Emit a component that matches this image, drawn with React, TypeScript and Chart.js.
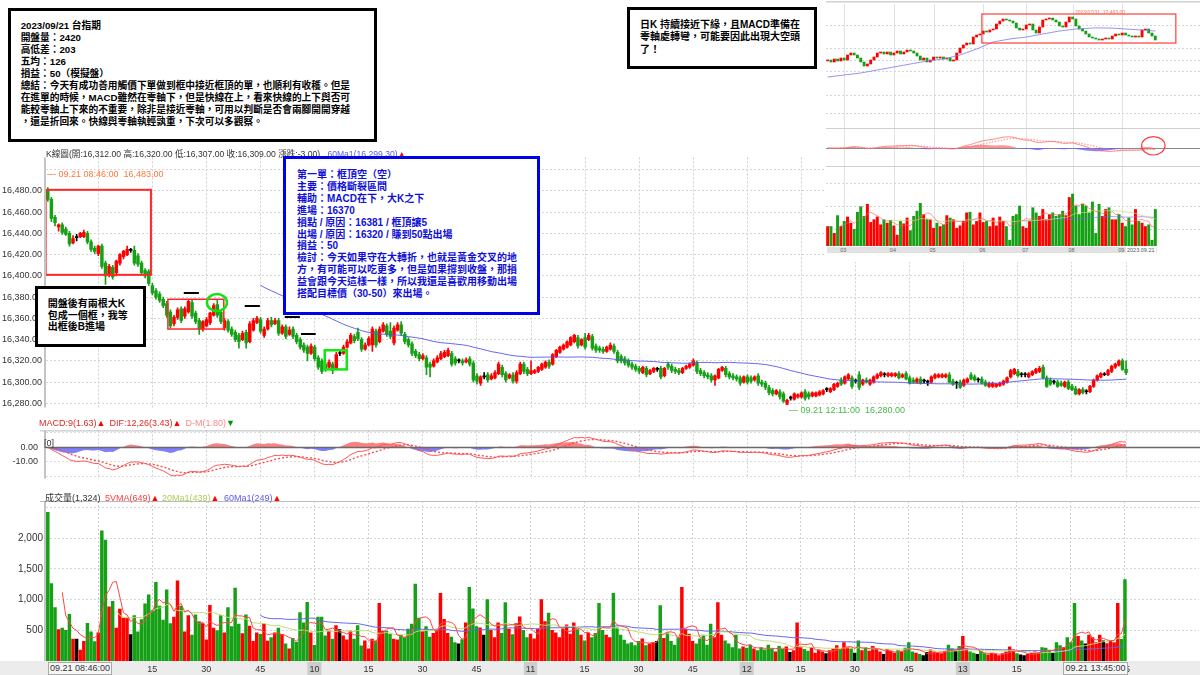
import React, { useEffect, useRef } from 'react';
import { Chart, registerables } from 'chart.js';

Chart.register(...registerables);

const FONT = "'Liberation Sans', 'Noto Sans CJK TC', sans-serif";
Chart.defaults.font.family = FONT;

// ===== 台指期 1-minute bars, 2023/09/21 08:46 - 13:45 (300 bars) =====
const opens = [
  16481,16472,16455,16446,16448,16444,16440,16431,16436,16437,
  16437,16440,16432,16426,16421,16428,16412,16401,16408,16403,
  16412,16418,16420,16424,16424,16419,16412,16405,16404,16391,
  16386,16383,16378,16374,16366,16355,16361,16369,16362,16366,
  16375,16365,16358,16350,16353,16356,16363,16373,16366,16351,
  16357,16350,16347,16344,16340,16347,16338,16349,16356,16359,
  16344,16350,16358,16355,16358,16346,16352,16345,16350,16344,
  16340,16335,16333,16327,16333,16323,16320,16317,16314,16317,
  16313,16327,16327,16333,16337,16343,16347,16340,16331,16335,
  16335,16348,16338,16348,16353,16348,16337,16349,16354,16345,
  16340,16336,16329,16326,16322,16323,16317,16315,16319,16322,
  16324,16325,16327,16322,16320,16320,16319,16322,16318,16306,
  16299,16305,16307,16303,16304,16308,16314,16308,16304,16307,
  16301,16308,16317,16312,16308,16309,16310,16312,16314,16319,
  16317,16324,16328,16331,16333,16335,16338,16342,16335,16342,
  16340,16343,16334,16332,16331,16329,16331,16334,16328,16324,
  16322,16320,16317,16315,16313,16309,16313,16308,16310,16312,
  16313,16306,16317,16315,16312,16311,16309,16313,16314,16316,
  16318,16311,16309,16307,16306,16302,16304,16311,16313,16308,
  16306,16305,16304,16300,16305,16304,16302,16306,16300,16299,
  16295,16292,16289,16291,16289,16281,16285,16284,16286,16286,
  16291,16289,16287,16287,16288,16289,16293,16291,16293,16296,
  16302,16299,16303,16304,16301,16307,16298,16302,16298,16300,
  16304,16306,16307,16306,16306,16306,16308,16305,16308,16304,
  16302,16300,16303,16301,16300,16300,16304,16305,16305,16305,
  16307,16301,16299,16300,16297,16300,16307,16305,16302,16303,
  16300,16296,16296,16296,16297,16298,16300,16305,16308,16310,
  16307,16307,16305,16307,16309,16310,16314,16304,16302,16300,
  16300,16299,16296,16300,16296,16294,16289,16293,16291,16291,
  16296,16302,16305,16307,16307,16310,16314,16316,16320,16312,
];
const highs = [
  16483,16474,16457,16449,16450,16446,16442,16438,16439,16441,
  16443,16442,16434,16428,16429,16430,16414,16411,16410,16415,
  16421,16424,16428,16426,16428,16421,16414,16407,16406,16393,
  16388,16385,16380,16376,16368,16363,16370,16371,16371,16378,
  16377,16367,16360,16358,16361,16366,16374,16377,16368,16360,
  16359,16352,16349,16346,16348,16349,16357,16360,16362,16361,
  16352,16360,16361,16360,16360,16354,16354,16352,16352,16346,
  16342,16337,16335,16336,16335,16325,16322,16319,16321,16319,
  16328,16329,16335,16340,16346,16345,16351,16342,16337,16343,
  16352,16350,16352,16356,16355,16356,16353,16356,16357,16347,
  16342,16338,16331,16328,16327,16325,16319,16322,16325,16329,
  16330,16332,16329,16324,16322,16322,16323,16324,16320,16308,
  16306,16309,16309,16308,16311,16319,16316,16310,16308,16309,
  16311,16319,16319,16314,16320,16312,16315,16318,16320,16321,
  16327,16331,16334,16336,16339,16343,16345,16344,16341,16346,
  16346,16345,16336,16334,16333,16334,16337,16336,16330,16326,
  16324,16322,16319,16317,16315,16315,16315,16312,16314,16314,
  16315,16314,16319,16317,16314,16313,16314,16316,16318,16322,
  16320,16313,16311,16309,16308,16307,16313,16315,16315,16310,
  16308,16307,16306,16306,16307,16306,16306,16308,16302,16301,
  16297,16294,16293,16293,16291,16284,16287,16290,16289,16291,
  16293,16291,16291,16291,16292,16293,16295,16295,16299,16300,
  16304,16306,16308,16306,16303,16310,16303,16304,16303,16306,
  16308,16310,16309,16309,16309,16309,16310,16308,16310,16306,
  16304,16304,16305,16303,16302,16306,16308,16308,16308,16308,
  16309,16303,16301,16302,16303,16304,16309,16307,16304,16305,
  16302,16300,16300,16299,16300,16302,16305,16312,16313,16312,
  16309,16309,16309,16311,16313,16315,16316,16306,16304,16302,
  16302,16301,16301,16302,16298,16296,16294,16295,16293,16297,
  16303,16307,16309,16309,16312,16316,16318,16321,16322,16320,
];
const lows = [
  16470,16451,16447,16442,16439,16438,16428,16430,16433,16436,
  16436,16430,16423,16421,16419,16407,16392,16399,16397,16400,
  16410,16416,16419,16422,16410,16409,16401,16398,16391,16382,
  16378,16375,16370,16361,16351,16353,16359,16356,16360,16365,
  16360,16355,16345,16348,16352,16354,16362,16361,16355,16349,
  16347,16343,16338,16332,16339,16332,16337,16348,16355,16346,
  16342,16349,16352,16354,16344,16345,16341,16344,16341,16336,
  16331,16328,16320,16326,16320,16312,16308,16310,16313,16308,
  16312,16325,16326,16332,16336,16337,16339,16329,16330,16334,
  16329,16333,16337,16347,16343,16341,16335,16348,16344,16336,
  16333,16325,16323,16320,16321,16307,16305,16314,16318,16321,
  16323,16324,16315,16316,16318,16316,16318,16315,16300,16298,
  16297,16303,16300,16302,16303,16307,16305,16300,16303,16299,
  16299,16307,16308,16306,16307,16308,16309,16311,16313,16313,
  16316,16323,16327,16330,16332,16334,16337,16332,16334,16331,
  16339,16330,16328,16328,16327,16328,16330,16327,16318,16318,
  16316,16314,16312,16310,16308,16308,16305,16307,16309,16310,
  16303,16305,16312,16309,16308,16307,16308,16312,16313,16315,
  16308,16306,16304,16303,16300,16297,16303,16310,16305,16303,
  16302,16301,16297,16299,16298,16299,16301,16297,16296,16293,
  16288,16287,16288,16284,16281,16280,16283,16283,16285,16285,
  16283,16284,16286,16286,16287,16288,16291,16290,16292,16295,
  16297,16298,16302,16294,16299,16293,16297,16299,16297,16299,
  16303,16305,16305,16305,16305,16305,16303,16304,16302,16298,
  16299,16299,16298,16299,16297,16299,16303,16304,16304,16304,
  16299,16297,16294,16294,16296,16299,16302,16301,16300,16298,
  16296,16295,16295,16295,16296,16297,16299,16304,16307,16305,
  16305,16305,16304,16306,16308,16309,16303,16295,16297,16298,
  16295,16296,16295,16293,16292,16288,16288,16289,16289,16290,
  16295,16301,16304,16306,16306,16309,16313,16315,16311,16307,
];
const closes = [
  16472,16454,16450,16448,16441,16439,16430,16435,16436,16440,
  16441,16432,16425,16423,16428,16409,16400,16409,16399,16414,
  16420,16423,16425,16424,16412,16411,16403,16400,16393,16384,
  16380,16377,16372,16363,16353,16361,16368,16358,16369,16376,
  16362,16357,16350,16357,16359,16365,16372,16363,16357,16358,
  16349,16345,16340,16338,16346,16337,16355,16358,16360,16348,
  16350,16358,16354,16358,16346,16352,16343,16349,16343,16338,
  16333,16330,16327,16334,16322,16314,16310,16312,16319,16311,
  16326,16327,16333,16338,16344,16339,16341,16331,16335,16341,
  16350,16335,16350,16354,16345,16343,16351,16354,16346,16338,
  16335,16327,16325,16322,16325,16314,16314,16320,16323,16327,
  16328,16330,16317,16318,16320,16318,16321,16317,16302,16301,
  16305,16305,16302,16306,16309,16317,16307,16302,16307,16301,
  16309,16317,16310,16308,16311,16311,16314,16317,16319,16315,
  16326,16330,16333,16335,16338,16342,16344,16334,16340,16333,
  16344,16332,16330,16330,16329,16333,16335,16329,16320,16320,
  16318,16316,16314,16312,16310,16314,16307,16311,16313,16312,
  16305,16313,16314,16311,16310,16309,16313,16315,16317,16320,
  16310,16308,16306,16305,16302,16306,16312,16314,16307,16305,
  16304,16303,16299,16305,16300,16301,16305,16299,16298,16295,
  16290,16289,16292,16286,16282,16283,16285,16289,16288,16290,
  16285,16286,16290,16290,16291,16292,16293,16294,16298,16299,
  16298,16305,16307,16296,16301,16295,16302,16300,16302,16305,
  16307,16309,16307,16308,16308,16308,16304,16307,16303,16299,
  16300,16303,16299,16301,16300,16305,16307,16307,16307,16307,
  16300,16298,16299,16295,16302,16303,16303,16302,16302,16299,
  16297,16299,16299,16298,16299,16301,16304,16311,16312,16306,
  16307,16307,16308,16310,16312,16313,16304,16296,16298,16300,
  16296,16297,16300,16294,16293,16289,16293,16290,16291,16296,
  16302,16306,16308,16307,16311,16315,16317,16320,16312,16309,
];
const volumes = [
  2420,1260,870,510,535,500,760,355,355,177,
  320,612,475,315,460,2120,1970,880,970,535,
  845,700,700,430,740,475,675,930,1075,820,
  1280,895,665,1160,610,715,1305,895,475,740,
  420,750,640,610,345,905,535,495,740,460,
  870,560,1185,600,445,750,570,320,460,435,
  600,325,380,460,535,435,280,200,370,305,
  790,620,955,460,255,715,715,410,485,355,
  575,510,410,345,485,355,575,245,330,200,
  355,330,940,485,485,435,355,345,420,380,
  520,600,1250,700,480,560,390,450,520,1100,
  680,450,390,300,280,350,620,1200,850,560,
  540,420,1000,500,380,620,450,950,520,430,
  610,720,500,380,440,360,520,1000,640,780,
  500,460,380,520,590,440,620,510,420,330,
  460,380,450,940,500,420,380,1100,540,420,
  340,280,300,250,320,360,250,280,300,320,
  900,370,460,320,260,380,1200,520,440,320,
  280,360,420,260,600,380,950,420,330,280,
  220,420,200,230,210,260,200,170,220,180,
  260,200,150,240,190,230,140,170,620,220,
  190,160,220,130,180,150,120,170,200,250,
  190,300,220,200,130,330,170,220,160,240,
  200,150,110,190,160,130,170,150,210,300,
  150,130,110,90,140,180,150,130,120,160,
  260,200,160,240,400,200,150,130,110,160,
  120,100,130,110,90,120,150,230,180,120,
  100,90,110,130,150,140,220,210,160,130,
  300,250,220,380,300,940,400,330,280,420,
  380,300,420,330,285,330,300,940,351,1324,
];

// time axis (slot index -> label)
const SLOTS = 320;
const timeTickIndex = [14, 29, 44, 59, 74, 89, 104, 119, 134, 149, 164, 179, 194, 209, 224, 239, 254, 269, 284, 299];
const timeTickText = ['09', '15', '30', '45', '10', '15', '30', '45', '11', '15', '30', '45', '12', '15', '30', '45', '13', '15', '30', '45'];
const hourTickIndex = [74, 134, 194, 254];

// value-axis ticks
const priceTickValues = [16280, 16300, 16320, 16340, 16360, 16380, 16400, 16420, 16440, 16460, 16480, 16500];
const macdTickValues = [-20, -10, 0, 10];
const macdTickLabels: Record<string, string> = { '0': '0.00', '-10': '-10.00' };
const volumeTickValues = [500, 1000, 1500, 2000, 2500];

// price-panel annotations (bar index / price coordinates)
const boxAnnotations = [
  { x0: -0.6, x1: 28.6, y0: 16401, y1: 16481, color: 'rgb(255,40,40)', width: 2 },
  { x0: 33.3, x1: 48.8, y0: 16350, y1: 16378, color: 'rgb(255,40,40)', width: 1.5 },
  { x0: 76.8, x1: 82.9, y0: 16312, y1: 16330, color: 'rgb(20,230,20)', width: 2.5 },
];
const dashAnnotations = [
  { x0: 37.7, x1: 41.9, y: 16384 },
  { x0: 54.6, x1: 58.8, y: 16372 },
  { x0: 65.7, x1: 69.9, y: 16361 },
  { x0: 70.2, x1: 74.3, y: 16345 },
];
const circleAnnotation = { x: 46.9, y: 16375, rx: 10, ry: 8.5 };
const lowMarkIndex = 205;

// ===== inset: daily K (日K) =====
const dailyOpens = [
  15380,15421,15332,15465,15376,15509,15421,15643,15731,15643,
  15509,15332,15154,15243,15421,15554,15731,15776,15687,15776,
  15643,15731,15820,15687,15776,15865,15820,15731,15598,15421,
  15509,15332,15421,15554,15509,15554,15465,15509,15376,15421,
  15731,15953,16087,16175,16131,16442,16531,16575,16708,16664,
  16753,16797,17019,17152,17241,17197,17152,17063,16841,16753,
  16797,16975,17019,16753,16619,16886,17197,17241,17285,17197,
  17108,16930,16886,17108,17330,17241,16930,16797,16708,16575,
  16442,16397,16353,16309,16353,16397,16353,16486,16575,16531,
  16619,16531,16486,16442,16486,16442,16753,16797,16619,16486,
];
const dailyCloses = [
  15421,15332,15465,15376,15509,15421,15643,15731,15643,15509,
  15332,15154,15243,15421,15554,15731,15776,15687,15776,15643,
  15731,15820,15687,15776,15865,15820,15731,15598,15421,15509,
  15332,15421,15554,15509,15554,15465,15509,15376,15421,15731,
  15953,16087,16175,16131,16442,16531,16575,16708,16664,16753,
  16797,17019,17152,17241,17197,17152,17063,16841,16753,16797,
  16975,17019,16753,16619,16886,17197,17241,17285,17197,17108,
  16930,16886,17108,17330,17241,16930,16797,16708,16575,16442,
  16397,16353,16309,16353,16397,16353,16486,16575,16531,16619,
  16531,16486,16442,16486,16442,16753,16797,16619,16486,16309,
];
const dailyMA = [
  14666,14684,14702,14720,14738,14755,14773,14790,14808,14826,
  14843,14870,14897,14923,14950,14977,15004,15030,15057,15084,
  15110,15137,15163,15190,15216,15243,15270,15296,15323,15349,
  15376,15394,15412,15429,15447,15465,15501,15536,15572,15607,
  15643,15696,15749,15803,15856,15909,15971,16033,16096,16158,
  16220,16247,16274,16300,16327,16353,16371,16389,16406,16424,
  16442,16469,16495,16522,16548,16575,16602,16628,16655,16681,
  16708,16726,16744,16761,16779,16797,16806,16815,16823,16832,
  16841,16843,16845,16845,16843,16841,16834,16826,16818,16808,
  16797,16788,16779,16771,16762,16753,16742,16731,16719,16708,
];
const dailyVolumes = [
  57,57,37,89,57,72,85,67,49,99,
  115,87,122,69,77,85,62,77,67,75,
  59,32,72,65,82,45,87,102,125,92,
  79,77,52,67,57,62,89,82,77,52,
  59,72,97,99,62,72,97,69,72,57,
  82,59,85,72,57,17,87,92,117,57,
  52,72,112,97,87,107,77,92,97,87,
  92,102,89,142,152,117,92,122,117,97,
  129,37,122,87,107,112,77,77,92,67,
  57,82,62,107,72,67,57,62,17,107,
];
const DAILY_SLOTS = 113;
const dailyMonthIndex = [5, 20, 32, 47, 60, 74, 89];
const dailyMonthText = ['03', '04', '05', '06', '07', '08', '09'];
const dailyBox = { x0: 46.6, x1: 105.2, y0: 16175, y1: 17463 };
const dailyCircle = { x: 98.4, y: 80, rx: 11.7, ry: 9.2 };

// ===== helpers =====
const RED = '#ff0000';
const GREEN = '#15a015';
const BLACK = '#000000';
const dirColor = (o: number, c: number) => (c > o ? RED : c < o ? GREEN : BLACK);
function ema(src: number[], n: number) {
  const k = 2 / (n + 1);
  const out: number[] = [];
  src.forEach((v, i) => out.push(i === 0 ? v : v * k + out[i - 1] * (1 - k)));
  return out;
}
function sma(src: number[], n: number) {
  return src.map((_, i) => {
    if (i < n - 1) return null;
    let s = 0;
    for (let j = i - n + 1; j <= i; j++) s += src[j];
    return s / n;
  });
}
const fmt2 = (v: number) => v.toLocaleString('en-US', { minimumFractionDigits: 2, maximumFractionDigits: 2 });
const fixedTicks = (values: number[]) => (s: any) => { s.ticks = values.map((v) => ({ value: v })); };

const slotLabels = Array.from({ length: SLOTS }, (_, i) => String(i));
const tickSet = new Set(timeTickIndex);
const hourSet = new Set(hourTickIndex);
const tickLabelMap: Record<number, string> = {};
timeTickIndex.forEach((idx, k) => { tickLabelMap[idx] = timeTickText[k]; });

const gridXColor = (ctx: any) => (tickSet.has(ctx.index) ? '#cfcfcf' : 'rgba(0,0,0,0)');

function hiddenX() {
  return {
    type: 'category', offset: true,
    afterFit: (s: any) => { s.height = 0; },
    ticks: { display: false, autoSkip: false },
    grid: { offset: false, drawTicks: false, color: gridXColor, lineWidth: 1 },
    border: { display: false, dash: [2, 2] },
  };
}

const axisLinePlugin = {
  id: 'axisLine',
  afterDraw(chart: any) {
    const { ctx, chartArea: a } = chart;
    ctx.save();
    ctx.fillStyle = '#c4c4c4';
    ctx.fillRect(a.left - 2, a.top, 2, a.bottom - a.top);
    ctx.restore();
  },
};
const topRulePlugin = {
  id: 'topRule',
  afterDraw(chart: any) {
    const { ctx, chartArea: a } = chart;
    ctx.save();
    ctx.fillStyle = '#bcbcbc';
    ctx.fillRect(40, a.top, chart.width - 40, 1);
    ctx.restore();
  },
};

const priceAnnoPlugin = {
  id: 'priceAnno',
  afterDatasetsDraw(chart: any) {
    const { ctx } = chart;
    const x = chart.scales.x;
    const y = chart.scales.y;
    ctx.save();
    boxAnnotations.forEach((b) => {
      const px0 = x.getPixelForValue(b.x0);
      const px1 = x.getPixelForValue(b.x1);
      const py0 = y.getPixelForValue(b.y1);
      const py1 = y.getPixelForValue(b.y0);
      ctx.strokeStyle = b.color;
      ctx.lineWidth = b.width;
      ctx.strokeRect(px0, py0, px1 - px0, py1 - py0);
    });
    ctx.strokeStyle = '#000';
    ctx.lineWidth = 2;
    dashAnnotations.forEach((d) => {
      const py = Math.round(y.getPixelForValue(d.y));
      ctx.beginPath();
      ctx.moveTo(x.getPixelForValue(d.x0), py);
      ctx.lineTo(x.getPixelForValue(d.x1), py);
      ctx.stroke();
    });
    ctx.strokeStyle = 'rgb(20,225,20)';
    ctx.lineWidth = 2.5;
    ctx.beginPath();
    ctx.ellipse(x.getPixelForValue(circleAnnotation.x), y.getPixelForValue(circleAnnotation.y), circleAnnotation.rx, circleAnnotation.ry, 0, 0, Math.PI * 2);
    ctx.stroke();
    ctx.fillStyle = RED;
    ctx.fillRect(x.getPixelForValue(lowMarkIndex) - 1.5, y.getPixelForValue(lows[lowMarkIndex]) - 1.5, 3, 3);
    ctx.restore();
  },
};

const zeroLinePlugin = {
  id: 'zeroLine',
  afterDatasetsDraw(chart: any) {
    const { ctx } = chart;
    const py = Math.round(chart.scales.y.getPixelForValue(0)) + 0.5;
    ctx.save();
    ctx.strokeStyle = '#6a6a6a';
    ctx.lineWidth = 1.5;
    ctx.beginPath();
    ctx.moveTo(chart.chartArea.left, py);
    ctx.lineTo(chart.chartArea.right, py);
    ctx.stroke();
    ctx.restore();
  },
};

const stripPlugin = {
  id: 'strip',
  beforeDraw(chart: any) {
    const { ctx, chartArea: a } = chart;
    ctx.save();
    ctx.fillStyle = '#ececec';
    ctx.fillRect(0, a.bottom, chart.width, chart.height - a.bottom);
    ctx.restore();
  },
};

const insetPlugin = {
  id: 'insetDeco',
  beforeDatasetsDraw(chart: any) {
    const { ctx } = chart;
    const x = chart.scales.x;
    const W = chart.width;
    ctx.save();
    ctx.fillStyle = '#d2d2d2';
    ctx.fillRect(0, 1, W, 1.5);
    ctx.strokeStyle = '#e2e2e2';
    ctx.lineWidth = 1;
    dailyMonthIndex.forEach((j) => {
      const px = Math.round(x.getPixelForValue(j)) + 0.5;
      ctx.beginPath(); ctx.moveTo(px, 4); ctx.lineTo(px, chart.height); ctx.stroke();
    });
    ctx.setLineDash([2, 2]);
    ctx.strokeStyle = '#d6d6d6';
    [25, 48, 60, 71, 95, 113, 183, 206, 229].forEach((py) => {
      ctx.beginPath(); ctx.moveTo(0, py + 0.5); ctx.lineTo(W, py + 0.5); ctx.stroke();
    });
    ctx.setLineDash([]);
    ctx.strokeStyle = '#cfcfcf';
    [128, 166].forEach((py) => {
      ctx.beginPath(); ctx.moveTo(0, py + 0.5); ctx.lineTo(W, py + 0.5); ctx.stroke();
    });
    const zy = Math.round(chart.scales.ym.getPixelForValue(0)) + 0.5;
    ctx.strokeStyle = '#8a8a8a';
    ctx.beginPath(); ctx.moveTo(0, zy); ctx.lineTo(W, zy); ctx.stroke();
    ctx.restore();
  },
  afterDatasetsDraw(chart: any) {
    const { ctx } = chart;
    const x = chart.scales.x;
    const yp = chart.scales.yp;
    const ym = chart.scales.ym;
    ctx.save();
    ctx.strokeStyle = 'rgb(255,60,60)';
    ctx.lineWidth = 1.2;
    const bx0 = x.getPixelForValue(dailyBox.x0);
    const bx1 = x.getPixelForValue(dailyBox.x1);
    const by0 = yp.getPixelForValue(dailyBox.y1);
    const by1 = yp.getPixelForValue(dailyBox.y0);
    ctx.strokeRect(bx0, by0, bx1 - bx0, by1 - by0);
    ctx.beginPath();
    ctx.ellipse(x.getPixelForValue(dailyCircle.x), ym.getPixelForValue(dailyCircle.y), dailyCircle.rx, dailyCircle.ry, 0, 0, Math.PI * 2);
    ctx.stroke();
    ctx.restore();
  },
};

const baseOptions = {
  animation: false,
  responsive: false,
  events: [],
  layout: { padding: 0 },
  plugins: { legend: { display: false }, tooltip: { enabled: false } },
};

function priceConfig() {
  const colors = opens.map((o, i) => dirColor(o, closes[i]));
  return {
    type: 'bar',
    data: {
      labels: slotLabels,
      datasets: [
        { type: 'line', data: sma(closes, 60), borderColor: 'rgba(85,85,235,0.9)', borderWidth: 1, pointRadius: 0, order: 0 },
        { type: 'bar', data: opens.map((o, i) => [o, closes[i]]), backgroundColor: colors, barThickness: 2.8, minBarLength: 1, grouped: false, order: 1 },
        { type: 'bar', data: lows.map((l, i) => [l, highs[i]]), backgroundColor: colors, barThickness: 1, grouped: false, order: 2 },
      ],
    },
    options: {
      ...baseOptions,
      scales: {
        x: hiddenX(),
        y: {
          min: 16276.06, max: 16511.51,
          afterFit: (s: any) => { s.width = 46; },
          afterBuildTicks: fixedTicks(priceTickValues),
          ticks: {
            padding: 4, color: '#333', font: { size: 9 },
            callback: (v: number) => (v <= 16480 ? fmt2(v) : ''),
          },
          grid: { color: '#d6d6d6', drawTicks: false },
          border: { display: false, dash: [2, 2] },
        },
      },
    },
    plugins: [axisLinePlugin, priceAnnoPlugin],
  };
}

function macdConfig() {
  const e12 = ema(closes, 12);
  const e26 = ema(closes, 26);
  const dif = e12.map((v, i) => v - e26[i]);
  const sig = ema(dif, 9);
  const hist = dif.map((d, i) => d - sig[i]);
  return {
    type: 'line',
    data: {
      labels: slotLabels,
      datasets: [
        { data: hist, borderColor: 'rgba(0,0,0,0)', borderWidth: 0, pointRadius: 0, fill: { target: 'origin', above: 'rgba(255,105,105,0.85)', below: 'rgba(105,105,250,0.85)' }, order: 3 },
        { data: dif, borderColor: 'rgb(255,85,85)', borderWidth: 1, pointRadius: 0, order: 1 },
        { data: sig, borderColor: 'rgb(255,70,70)', borderWidth: 1.3, borderDash: [2, 2], pointRadius: 0, order: 2 },
      ],
    },
    options: {
      ...baseOptions,
      scales: {
        x: hiddenX(),
        y: {
          min: -21.45, max: 11.59,
          afterFit: (s: any) => { s.width = 46; },
          afterBuildTicks: fixedTicks(macdTickValues),
          ticks: {
            padding: 8, color: '#333', font: { size: 9 },
            callback: (v: number) => macdTickLabels[String(v)] || '',
          },
          grid: { color: (c: any) => (c.tick && c.tick.value === 0 ? 'rgba(0,0,0,0)' : '#dcdcdc'), drawTicks: false },
          border: { display: false, dash: [2, 2] },
        },
      },
    },
    plugins: [axisLinePlugin, topRulePlugin, zeroLinePlugin],
  };
}

function volumeConfig() {
  const colors = opens.map((o, i) => dirColor(o, closes[i]));
  return {
    type: 'bar',
    data: {
      labels: slotLabels,
      datasets: [
        { type: 'line', data: sma(volumes, 5), borderColor: 'rgb(255,70,70)', borderWidth: 1, pointRadius: 0, order: 0 },
        { type: 'line', data: sma(volumes, 20), borderColor: 'rgb(190,220,110)', borderWidth: 1, pointRadius: 0, order: 0 },
        { type: 'line', data: sma(volumes, 60), borderColor: 'rgb(100,100,240)', borderWidth: 1, pointRadius: 0, order: 0 },
        { type: 'bar', data: volumes, backgroundColor: colors, barThickness: 2.8, grouped: false, order: 1 },
      ],
    },
    options: {
      ...baseOptions,
      scales: {
        x: {
          type: 'category', offset: true,
          afterFit: (s: any) => { s.height = 14; },
          ticks: {
            autoSkip: false, maxRotation: 0, padding: 3, color: '#333', font: { size: 9 },
            callback: (_v: any, idx: number) => tickLabelMap[idx] || '',
            showLabelBackdrop: (c: any) => hourSet.has(c.index),
            backdropColor: '#cdcdcd',
            backdropPadding: { left: 2, right: 2, top: 2, bottom: 2 },
          },
          grid: { offset: false, drawTicks: false, color: gridXColor },
          border: { display: false, dash: [2, 2] },
        },
        y: {
          min: 0, max: 2604,
          afterFit: (s: any) => { s.width = 46; },
          afterBuildTicks: fixedTicks(volumeTickValues),
          ticks: {
            padding: 3, color: '#333', font: { size: 10 },
            callback: (v: number) => (v <= 2000 ? v.toLocaleString('en-US') : ''),
          },
          grid: { color: '#d6d6d6', drawTicks: false },
          border: { display: false, dash: [2, 2] },
        },
      },
    },
    plugins: [stripPlugin, axisLinePlugin, topRulePlugin],
  };
}

function insetConfig() {
  const colors = dailyOpens.map((o, i) => dirColor(o, dailyCloses[i]));
  const e12 = ema(dailyCloses, 12);
  const e26 = ema(dailyCloses, 26);
  const dif = e12.map((v, i) => v - e26[i]);
  const sig = ema(dif, 9);
  const hist = dif.map((d, i) => d - sig[i]);
  return {
    type: 'bar',
    data: {
      labels: Array.from({ length: DAILY_SLOTS }, (_, i) => String(i)),
      datasets: [
        { type: 'line', yAxisID: 'yp', data: dailyMA, borderColor: 'rgba(120,120,235,0.8)', borderWidth: 1, pointRadius: 0, order: 0 },
        { type: 'bar', yAxisID: 'yp', data: dailyOpens.map((o, i) => [o, dailyCloses[i]]), backgroundColor: colors, barThickness: 2.2, minBarLength: 1, grouped: false, order: 1 },
        { type: 'line', yAxisID: 'ym', data: hist, borderColor: 'rgba(0,0,0,0)', borderWidth: 0, pointRadius: 0, fill: { target: 'origin', above: 'rgba(255,100,100,0.7)', below: 'rgba(100,100,250,0.8)' }, order: 3 },
        { type: 'line', yAxisID: 'ym', data: dif, borderColor: 'rgba(255,110,110,0.9)', borderWidth: 0.9, pointRadius: 0, order: 1 },
        { type: 'line', yAxisID: 'ym', data: sig, borderColor: 'rgba(255,110,110,0.9)', borderWidth: 0.9, borderDash: [1.5, 1.5], pointRadius: 0, order: 1 },
        { type: 'bar', yAxisID: 'yv', data: dailyVolumes, backgroundColor: colors, barThickness: 2.3, grouped: false, order: 2 },
        { type: 'line', yAxisID: 'yv', data: sma(dailyVolumes, 5), borderColor: 'rgba(255,90,90,0.8)', borderWidth: 0.8, pointRadius: 0, order: 0 },
        { type: 'line', yAxisID: 'yv', data: sma(dailyVolumes, 20), borderColor: 'rgba(200,215,120,0.9)', borderWidth: 0.8, pointRadius: 0, order: 0 },
        { type: 'line', yAxisID: 'yv', data: sma(dailyVolumes, 60), borderColor: 'rgba(110,110,240,0.8)', borderWidth: 0.8, pointRadius: 0, order: 0 },
      ],
    },
    options: {
      ...baseOptions,
      scales: {
        x: { type: 'category', offset: true, display: false },
        yp: { display: false, min: 7162, max: 18085 },
        ym: { display: false, min: -3528, max: 5328 },
        yv: { display: false, min: 0, max: 720 },
      },
    },
    plugins: [insetPlugin],
  };
}

const abs = (left: number, top: number, extra: any = {}) => ({ position: 'absolute' as const, left, top, ...extra });
const small = { fontSize: 9, lineHeight: '11px', whiteSpace: 'nowrap' as const };

const leftNote = [
  '2023/09/21 台指期',
  '開盤量：2420',
  '高低差：203',
  '五均：126',
  '損益：50（模擬盤）',
  '總結：今天有成功善用觸價下單做到框中接近框頂的單，也順利有收穫。但是',
  '在進單的時候，MACD雖然在零軸下，但是快線在上，看來快線的上下與否可',
  '能較零軸上下來的不重要，除非是接近零軸，可用以判斷是否會兩腳開開穿越',
  '，還是折回來。快線與零軸執輕孰重，下次可以多觀察。',
];
const dailyNote = ['日K 持續接近下緣，且MACD準備在', '零軸處轉彎，可能要因此出現大空頭', '了！'];
const tradeNote = [
  '第一單：框頂空（空）',
  '主要：價格斷裂區間',
  '輔助：MACD在下，大K之下',
  '進場：16370',
  '損點 / 原因：16381 /  框頂讓5',
  '出場 / 原因：16320 / 賺到50點出場',
  '損益：50',
  '檢討：今天如果守在大轉折，也就是黃金交叉的地',
  '方，有可能可以吃更多，但是如果撐到收盤，那損',
  '益會跟今天這樣一樣，所以我還是喜歡用移動出場',
  '搭配目標價（30-50）來出場。',
];
const openNote = ['開盤後有兩根大K', '包成一個框，我等', '出框後B進場'];

export default function App() {
  const priceRef = useRef<HTMLCanvasElement>(null);
  const macdRef = useRef<HTMLCanvasElement>(null);
  const volRef = useRef<HTMLCanvasElement>(null);
  const insetRef = useRef<HTMLCanvasElement>(null);

  useEffect(() => {
    const charts = [
      new Chart(priceRef.current as any, priceConfig() as any),
      new Chart(macdRef.current as any, macdConfig() as any),
      new Chart(volRef.current as any, volumeConfig() as any),
      new Chart(insetRef.current as any, insetConfig() as any),
    ];
    return () => charts.forEach((c) => c.destroy());
  }, []);

  const insetSlotW = 374 / DAILY_SLOTS;

  return (
    <div style={{ position: 'absolute', left: 0, top: 0, width: 1200, height: 675, overflow: 'hidden', background: '#fff', fontFamily: FONT, color: '#333' }}>
      <canvas ref={priceRef} width={1200} height={269} style={abs(0, 148)} />
      <canvas ref={macdRef} width={1200} height={75} style={abs(0, 417)} />
      <canvas ref={volRef} width={1200} height={183} style={abs(0, 492)} />

      {/* price panel texts */}
      <div style={abs(46, 149, { fontSize: 8.6, lineHeight: '10px', whiteSpace: 'nowrap', color: '#333' })}>
        K線圖(開:16,312.00 高:16,320.00 低:16,307.00 收:16,309.00 漲跌:-3.00)&nbsp;&nbsp;&nbsp;
        <span style={{ color: 'rgb(90,90,235)' }}>60Ma1(16,299.30)</span>
        <span style={{ color: 'red' }}>▲</span>
      </div>
      <div style={abs(47, 168.5, { ...small, color: 'rgb(255,120,60)' })}>— 09.21 08:46:00&nbsp;&nbsp;16,483.00</div>
      <div style={abs(789, 404.5, { ...small, color: 'rgb(70,185,70)' })}>— 09.21 12:11:00&nbsp;&nbsp;16,280.00</div>

      {/* MACD header */}
      <div style={abs(39, 417.5, { ...small })}>
        <span style={{ color: 'rgb(225,40,40)' }}>MACD:9(1.63)</span><span style={{ color: 'red' }}>▲</span>
        <span style={{ color: 'rgb(225,40,40)', marginLeft: 4 }}>DIF:12,26(3.43)</span><span style={{ color: 'red' }}>▲</span>
        <span style={{ color: 'rgb(255,135,135)', marginLeft: 4 }}>D-M(1.80)</span><span style={{ color: 'rgb(0,150,0)' }}>▼</span>
      </div>
      <div style={abs(44, 437.5, { ...small, color: '#333' })}>[0]</div>

      {/* volume header */}
      <div style={abs(45, 493, { ...small, color: '#333' })}>成交量(1,324)</div>
      <div style={abs(105, 493, { ...small, color: 'rgb(255,60,60)' })}>5VMA(649)<span style={{ color: 'red' }}>▲</span></div>
      <div style={abs(162, 493, { ...small, color: 'rgb(175,205,85)' })}>20Ma1(439)<span style={{ color: 'red' }}>▲</span></div>
      <div style={abs(224, 493, { ...small, color: 'rgb(90,90,235)' })}>60Ma1(249)<span style={{ color: 'red' }}>▲</span></div>

      {/* x axis end boxes */}
      <div style={abs(48, 662, { width: 64, height: 13, boxSizing: 'border-box', border: '1px solid #aaa', background: '#f6f6f6', fontSize: 9, lineHeight: '11px', textAlign: 'center', whiteSpace: 'nowrap' })}>09.21 08:46:00</div>
      <div style={abs(1063, 662, { width: 65, height: 13, boxSizing: 'border-box', border: '1px solid #aaa', background: '#f6f6f6', fontSize: 9, lineHeight: '11px', textAlign: 'center', whiteSpace: 'nowrap' })}>09.21 13:45:00</div>

      {/* annotation boxes */}
      <div style={abs(35, 285.5, { width: 111, height: 61.5, boxSizing: 'border-box', border: '3px solid #000', background: '#fff', padding: '9.5px 0 0 9.7px', fontSize: 10, lineHeight: '11.5px', fontWeight: 'bold', color: '#000', whiteSpace: 'nowrap' })}>
        {openNote.map((l, i) => <div key={i}>{l}</div>)}
      </div>
      <div style={abs(283, 156, { width: 257, height: 159, boxSizing: 'border-box', border: '3px solid rgb(0,0,235)', background: '#fff', padding: '10px 0 0 11px', fontSize: 10, lineHeight: '11.9px', fontWeight: 'bold', color: 'rgb(15,15,215)', whiteSpace: 'nowrap' })}>
        {tradeNote.map((l, i) => <div key={i}>{l}</div>)}
      </div>
      <div style={abs(8, 8, { width: 369, height: 134, boxSizing: 'border-box', border: '3px solid #000', background: '#fff', padding: '8.5px 0 0 9.7px', fontSize: 9.7, lineHeight: '12px', fontWeight: 'bold', color: '#000', whiteSpace: 'nowrap' })}>
        {leftNote.map((l, i) => <div key={i}>{l}</div>)}
      </div>
      <div style={abs(627, 7, { width: 190, height: 62, boxSizing: 'border-box', border: '3px solid #000', background: '#fff', padding: '8.5px 0 0 10px', fontSize: 10, lineHeight: '12.5px', fontWeight: 'bold', color: '#000', whiteSpace: 'nowrap' })}>
        {dailyNote.map((l, i) => <div key={i}>{l}</div>)}
      </div>

      {/* inset daily chart */}
      <canvas ref={insetRef} width={374} height={246} style={abs(826, 0, { background: '#fff' })} />
      <div style={abs(826, 246, { width: 374, height: 16, background: '#fff' })}>
        <div style={abs(1, 1, { width: 330, height: 6, background: '#e2e2e2' })} />
        {dailyMonthIndex.map((j, k) => (
          <div key={k} style={abs((j + 0.5) * insetSlotW - 4, 1, { fontSize: 5.5, lineHeight: '6px', color: '#666' })}>{dailyMonthText[k]}</div>
        ))}
        <div style={abs(300, 1, { fontSize: 5.5, lineHeight: '6px', color: '#555', background: '#fff', padding: '0 1px' })}>2023.09.21</div>
      </div>
      <div style={abs(1075, 8.5, { fontSize: 5, lineHeight: '6px', color: 'rgb(255,120,80)', whiteSpace: 'nowrap' })}>2023/07/31&nbsp;&nbsp;17,463.00</div>
    </div>
  );
}
